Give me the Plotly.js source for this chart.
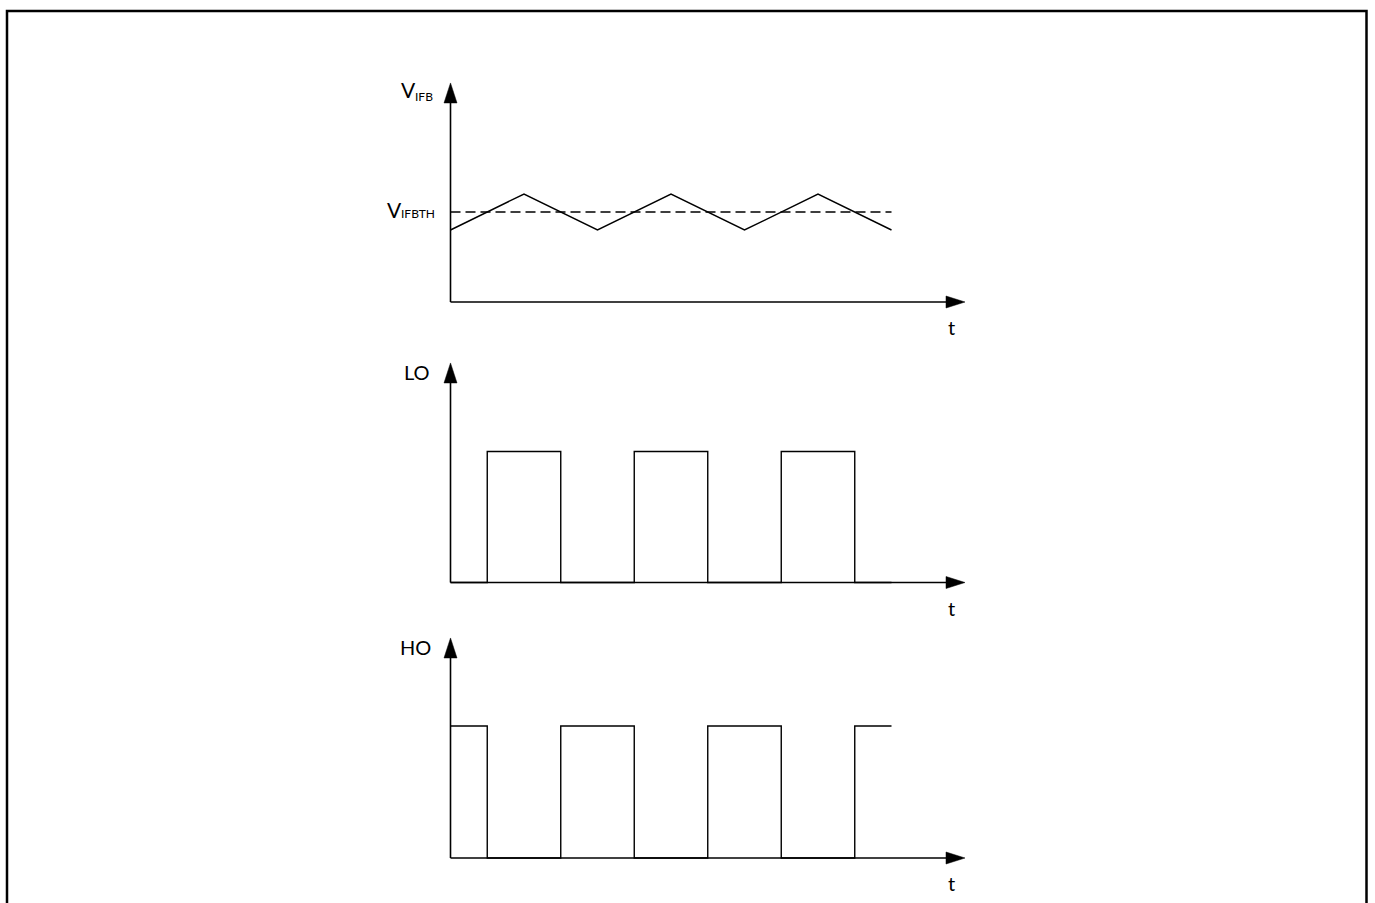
<!DOCTYPE html>
<html><head><meta charset="utf-8">
<script src="https://cdn.plot.ly/plotly-3.0.1.min.js"></script>
<style>html,body{margin:0;padding:0;background:#fff}#chart{width:1375px;height:903px}</style>
</head><body><div id="chart"></div>
<script>
// ---- data ----
const triT = [0, 2, 4, 6, 8, 10, 12];
const triV = [0.4, 0.6, 0.4, 0.6, 0.4, 0.6, 0.4];
const thT = [0, 12];
const thV = [0.5, 0.5];
const loT = [0, 1, 3, 5, 7, 9, 11, 12];
const loV = [0, 1, 0, 1, 0, 1, 0, 0];
const hoT = [0, 1, 3, 5, 7, 9, 11, 12];
const hoV = [1, 0, 1, 0, 1, 0, 1, 1];
const axisEndT = 14;
const axisTopV = [1.217, 1.676, 1.667];
const vMain = 'V';
const vSubs = ['IFB', 'IFBTH'];
const plainLabels = ['LO', 'HO'];
const tLabel = 't';

// ---- layout geometry ----
const W = 1375, H = 903;
const originPx = 450.5, unitX = 36.75;
const panels = [{zero: 302, unit: 180}, {zero: 582.5, unit: 131}, {zero: 858, unit: 132}];
const yrefs = ['y', 'y2', 'y3'];
const FONT = 'Lato, "Open Sans", sans-serif';
const px = v => v / W, py = v => 1 - v / H;

const traces = [
  {x: triT, y: triV, yaxis: 'y', mode: 'lines', line: {color: '#000', width: 1.4}},
  {x: thT, y: thV, yaxis: 'y', mode: 'lines', line: {color: '#000', width: 1.4, dash: '10px,5px'}},
  {x: loT, y: loV, yaxis: 'y2', mode: 'lines', line: {color: '#000', width: 1.4, shape: 'hv'}},
  {x: hoT, y: hoV, yaxis: 'y3', mode: 'lines', line: {color: '#000', width: 1.4, shape: 'hv'}}
];

const shapes = [];
// border (left, top, right)
shapes.push({type: 'path', xref: 'paper', yref: 'paper',
  path: `M${px(7)},${py(920)} L${px(7)},${py(11)} L${px(1366.5)},${py(11)} L${px(1366.5)},${py(920)}`,
  line: {color: '#000', width: 2.5}});
yrefs.forEach((yr, i) => {
  shapes.push({type: 'line', xref: 'x', yref: yr, x0: 0, x1: axisEndT - 0.3, y0: 0, y1: 0, line: {color: '#000', width: 1.6}});
  shapes.push({type: 'line', xref: 'x', yref: yr, x0: 0, x1: 0, y0: 0, y1: axisTopV[i] - 0.05, line: {color: '#000', width: 1.6}});
  shapes.push({type: 'path', xref: 'x', yref: yr, xsizemode: 'pixel', ysizemode: 'pixel',
    xanchor: axisEndT, yanchor: 0, path: 'M0,0 L-19,6 L-19,-6 Z', fillcolor: '#000', line: {color: '#000', width: 0.5}});
  shapes.push({type: 'path', xref: 'x', yref: yr, xsizemode: 'pixel', ysizemode: 'pixel',
    xanchor: 0, yanchor: axisTopV[i], path: 'M0,0 L-6.5,-20 L6.5,-20 Z', fillcolor: '#000', line: {color: '#000', width: 0.5}});
});

const annotations = [];
const lab = (text, x, y, xanchor, size) => annotations.push({text, xref: 'paper', yref: 'paper', x: px(x), y: py(y),
  xanchor: xanchor || 'right', yanchor: 'middle', showarrow: false, font: {family: FONT, size: size || 20, color: '#000'}});
// V_IFB
lab(vMain, 399, 90, 'left', 21);
lab(vSubs[0], 413, 96.5, 'left', 12);
// V_IFBTH
lab(vMain, 385, 209, 'left', 21);
lab(vSubs[1], 399, 213.5, 'left', 12);
lab(plainLabels[0], 432, 372);
lab(plainLabels[1], 433, 647);
panels.forEach(p => lab(tLabel, 951, p.zero + 25, 'center'));

const axisBase = {showgrid: false, zeroline: false, showticklabels: false, showline: false, ticks: '', fixedrange: true};
const layout = {
  width: W, height: H, margin: {l: 0, r: 0, t: 0, b: 0},
  paper_bgcolor: '#fff', plot_bgcolor: '#fff', showlegend: false,
  xaxis: Object.assign({}, axisBase, {range: [-originPx / unitX, (W - originPx) / unitX], domain: [0, 1]}),
  yaxis: Object.assign({}, axisBase, {range: [(panels[0].zero - H) / panels[0].unit, panels[0].zero / panels[0].unit], domain: [0, 1]}),
  yaxis2: Object.assign({}, axisBase, {range: [(panels[1].zero - H) / panels[1].unit, panels[1].zero / panels[1].unit], domain: [0, 1], overlaying: 'y'}),
  yaxis3: Object.assign({}, axisBase, {range: [(panels[2].zero - H) / panels[2].unit, panels[2].zero / panels[2].unit], domain: [0, 1], overlaying: 'y'}),
  shapes, annotations
};
Plotly.newPlot('chart', traces, layout, {staticPlot: true, displayModeBar: false});
</script></body></html>
